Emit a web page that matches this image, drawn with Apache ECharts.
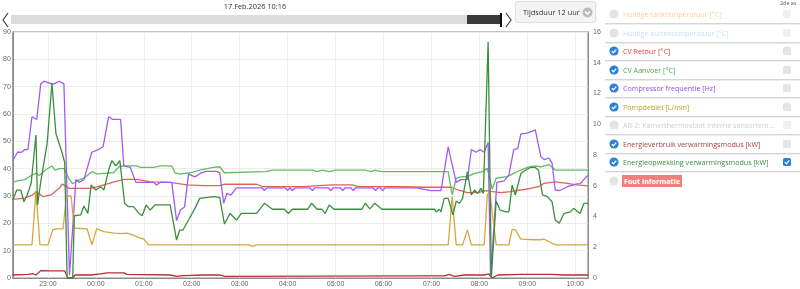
<!DOCTYPE html>
<html><head><meta charset="utf-8">
<script src="https://cdn.jsdelivr.net/npm/echarts@6/dist/echarts.min.js"></script>
<style>
html,body{margin:0;padding:0;background:#fff;font-family:'Open Sans',sans-serif;}
#wrap{position:relative;width:800px;height:289px;overflow:hidden;}
#chart{position:absolute;left:0;top:0;width:800px;height:289px;}
.abs{position:absolute;}
.row{position:absolute;left:605px;width:195px;height:18px;}
.sep{position:absolute;left:605px;width:195px;height:1px;background:#d6d6d6;box-shadow:0 1px 0 #eee;}
.lbl{position:absolute;left:18px;top:0;line-height:18px;font-family:'Open Sans',sans-serif;font-size:7.15px;white-space:nowrap;}
.box{position:absolute;left:178px;top:5px;width:8px;height:8px;border-radius:1.5px;background:#e4e4e4;}
</style></head>
<body><div id="wrap">
<div id="chart"></div>
</div>
<script>
// ---- data: [minutes after 16 Feb 22:16, value] ----
const startYear = 2026, startMonth = 1, startDay = 16, startHour = 22, startMinute = 16;
const spanMinutes = 720;
const dateTitle = '17.Feb.2026 10:16';
const durationLabel = 'Tijdsduur 12 uur';
const legendNames = ['Huidige tanktemperatuur [°C]','Huidige buitentemperatuur [°C]','CV Retour [°C]','CV Aanvoer [°C]','Compressor frequentie [Hz]','Pompdebiet [L/min]','AB-2: Kamerthermostaat interne sensortem...','Energieverbruik verwarmingsmodus [kW]','Energieopwekking verwarmingsmodus [kW]','Fout informatie'];
const leftTicks = [0, 90, 10];
const rightTicks = [0, 16, 2];

const cvRetour = [[0,28.8],[15,29.2],[25,30.4],[29,31.6],[38,29.8],[48,30.4],[58,32.8],[62,34.4],[66,33.6],[71,32.8],[98,32.8],[106,33.4],[114,34.1],[127,35.2],[139,36.1],[156,36.1],[172,35.2],[197,35],[218,34.1],[238,33.8],[259,33.8],[265,34.3],[305,34.3],[313,33.4],[362,33.4],[400,34.1],[425,34.1],[433,33.4],[487,33.4],[512,33.2],[549,33.2],[557,32.2],[569,31.2],[582,31.2],[592,32],[601,31.6],[611,31.2],[623,31.6],[636,32.2],[648,32.8],[658,33.4],[665,34.6],[679,35.2],[694,34.6],[706,34.1],[720,33.7]];

const cvAanvoer = [[0,35],[6,35.5],[15,36],[23,37.5],[29,38.3],[33,37.5],[41,39.5],[49,41],[53,39.5],[58,40],[64,40],[71,36],[75,34.5],[83,35.9],[89,36.5],[99,38.9],[105,38.1],[114,38.3],[126,38.5],[133,40.7],[139,41],[155,41],[160,40.5],[176,40.5],[185,41],[199,41],[203,38.5],[209,38],[222,38.5],[234,39.5],[251,40.5],[259,40.7],[265,38.5],[317,38.9],[325,39.5],[375,39.5],[381,38.9],[387,39.5],[397,38.9],[403,39.5],[441,39.5],[449,38.9],[453,39.5],[462,38.9],[545,38.9],[550,30.4],[555,36.5],[563,37.1],[569,37.1],[578,38.3],[588,38.9],[594,40.1],[600,32.5],[605,36.5],[619,37.1],[627,38.3],[636,39.5],[644,40.5],[654,41],[661,40.7],[671,41.5],[679,39.5],[720,39.5]];

const compressor = [[0,43],[6,46],[11,46],[15,47],[19,47],[24,59],[30,58],[35,71],[39,72],[48,71],[52,71],[58,72],[64,71],[66,71],[71,1],[79,36],[83,35],[89,36],[99,46],[107,47],[113,48],[120,59],[125,58],[135,58],[139,41],[147,40.5],[149,40],[154,35],[176,35],[180,34],[185,35],[199,35],[205,21],[210,25],[215,26],[220,38],[228,37],[236,38.5],[242,39],[255,39],[259,38.5],[264,27.3],[268,31],[273,30.3],[280,33],[312,33],[315,32],[318,33],[341,33],[344,32],[347,33],[350,32],[354,33],[372,33],[375,32],[378,33],[395,33],[398,32],[401,33],[410,33],[413,32],[416,33],[423,33],[426,32],[429,33],[451,33],[454,32],[457,33],[460,33],[463,32],[466,33],[505,33],[524,32],[536,32],[545,48],[555,35],[561,36],[569,36],[574,47],[580,46],[585,47],[590,46],[595,49.6],[598,0.5],[606,35],[615,35.5],[621,37.7],[627,47],[632,47.3],[636,52.7],[644,53],[654,54.2],[661,44.4],[665,43.3],[671,43.9],[675,42],[679,32.2],[685,32],[694,33.4],[706,34.4],[710,34.5],[718,37],[720,37.5]];

const pompdebiet = [[0,12.1],[24,12.1],[29,31.6],[34,12.1],[44,12.1],[50,17.6],[54,18],[63,18],[67,30],[73,30],[77,18.3],[93,18],[99,12.1],[101,12.1],[105,18],[114,17],[127,16.4],[135,16.2],[143,16.4],[151,15.7],[158,14.8],[164,14.2],[170,12.1],[296,12.1],[300,11.6],[305,12.1],[545,12.1],[550,29.8],[555,12.1],[563,12.1],[569,17.6],[574,12.1],[590,12.1],[594,30.4],[597,31.6],[605,12.1],[621,12.1],[625,17.8],[629,17.6],[636,14.2],[652,14],[660,14],[665,14.2],[675,12.7],[681,12.1],[720,12.1]];

const verbruik = [[0,1.1],[19,1.3],[25,1.6],[29,1.1],[35,2.7],[48,2.6],[65,2.6],[69,0],[75,0],[78,1.1],[98,1.1],[110,1.5],[118,1.9],[139,1.9],[143,1.3],[197,1.1],[205,0.6],[214,0.9],[238,1.1],[259,1.1],[265,0.6],[511,0.8],[540,0.8],[546,1.3],[553,0.6],[565,1.1],[590,1.1],[596,1.5],[600,0],[607,1.1],[636,1.3],[675,1.3],[690,1.1],[720,1.1]];

const opwekking = [[0,5.07],[5,5.72],[10,5.72],[14,4.96],[18,5.4],[23,6.16],[29,9.3],[31,4.75],[35,6.27],[43,8.76],[49,12.66],[54,9.4],[62,8.1],[65,7.5],[68,0],[75,0],[77,4.05],[85,4.1],[89,4.68],[94,4.2],[98,6.05],[104,5.72],[110,5.94],[114,5.72],[120,7.02],[124,7.63],[129,7.3],[134,7.63],[140,4.86],[145,4.64],[151,4.64],[158,4.2],[162,4.05],[167,4.75],[172,4.42],[178,4.75],[197,4.75],[205,2.47],[209,3.12],[213,3.12],[220,3.77],[228,4.53],[234,5.18],[251,5.29],[259,5.25],[265,3.51],[272,4.2],[280,3.77],[286,4.2],[305,4.2],[315,4.86],[325,4.47],[340,4.47],[345,4.2],[350,4.47],[369,4.47],[374,4.86],[381,4.47],[387,4.47],[391,4.2],[396,4.75],[402,4.47],[437,4.47],[441,4.86],[447,4.5],[453,4.86],[462,4.47],[528,4.47],[530,4.3],[534,4.47],[536,4.3],[540,5.18],[545,5.18],[551,4.1],[555,5.0],[559,4.86],[563,5.18],[569,6.91],[574,5.4],[578,5.72],[582,5.5],[586,5.83],[589,5.5],[595,15.37],[599,0],[605,5.0],[610,4.42],[617,4.3],[621,4.3],[625,6.05],[629,5.4],[636,6.8],[642,7.02],[648,7.19],[654,7.19],[658,7.02],[663,5.4],[669,5.29],[675,4.96],[679,3.77],[684,3.56],[690,4.2],[698,4.3],[702,4.53],[710,4.2],[715,4.86],[720,4.86]];

// ---- styling ----
const C = {
  retour:'#e0625e', aanvoer:'#62bd5e', comp:'#a259f7', pomp:'#d8a73c', verbruik:'#b3312f', opwek:'#3b8f3b'
};
const legendStyle = [
  {color:'#f4d49a', on:false, box:'off'},
  {color:'#cadff2', on:false, box:'off'},
  {color:'#d9453f', on:true, box:'empty'},
  {color:'#4aa84a', on:true, box:'empty'},
  {color:'#9a48f2', on:true, box:'empty'},
  {color:'#c49a25', on:true, box:'empty'},
  {color:'#c3d2e1', on:false, box:'off'},
  {color:'#a8403d', on:true, box:'empty'},
  {color:'#3f8e3f', on:true, box:'checked'},
  {color:'#ffffff', on:false, box:'none', fout:true}
];

const t0 = new Date(startYear, startMonth, startDay, startHour, startMinute).getTime();
const toPts = arr => arr.map(p => [t0 + p[0]*60000, p[1]]);

// ---- overlay UI ----
const wrap = document.getElementById('wrap');
function add(html){ wrap.insertAdjacentHTML('beforeend', html); }
add(`<div class="abs" style="left:200px;width:110px;top:0;text-align:center;font-size:7.4px;color:#333;line-height:12px">${dateTitle}</div>`);
add(`<svg class="abs" style="left:1px;top:12px" width="9" height="16"><polyline points="7,1 2,8 7,15" fill="none" stroke="#444" stroke-width="1.2"/></svg>`);
add(`<div class="abs" style="left:11px;top:15px;width:489px;height:9px;background:#dcdcdc"></div>`);
add(`<div class="abs" style="left:467px;top:15px;width:33px;height:9px;background:#3a3a3a"></div>`);
add(`<div class="abs" style="left:500px;top:13px;width:2px;height:14px;background:#111"></div>`);
add(`<svg class="abs" style="left:504px;top:12px" width="9" height="16"><polyline points="2,1 7,8 2,15" fill="none" stroke="#444" stroke-width="1.2"/></svg>`);
add(`<div class="abs" style="left:516px;top:2px;width:79px;height:20px;background:#f4f4f4;border-radius:2px;box-shadow:0 0 1px 1px #ddd"></div>`);
add(`<div class="abs" style="left:523px;top:2px;line-height:20px;font-size:7.4px;color:#333">${durationLabel}</div>`);
add(`<svg class="abs" style="left:582px;top:7px" width="11" height="11"><circle cx="5.5" cy="5.5" r="5" fill="#bdbdbd"/><polyline points="3,4.5 5.5,7 8,4.5" fill="none" stroke="#fff" stroke-width="1.4"/></svg>`);
add(`<div class="abs" style="left:780px;top:-1px;font-size:5.4px;color:#555;line-height:8px">2de as</div>`);

legendNames.forEach((name, i) => {
  const st = legendStyle[i];
  const top = 5 + i*18.5;
  let circle = st.on
    ? `<svg class="abs" style="left:4px;top:4px" width="10" height="10"><circle cx="5" cy="5" r="4.6" fill="#2f7fd6"/><polyline points="2.8,5.2 4.4,6.8 7.3,3.6" fill="none" stroke="#fff" stroke-width="1.3"/></svg>`
    : `<svg class="abs" style="left:4px;top:4px" width="10" height="10"><circle cx="5" cy="5" r="4.6" fill="#e3e3e3"/></svg>`;
  let label = st.fout
    ? `<div class="lbl" style="color:#fff;font-weight:bold;top:3px;line-height:12px;background:#f07f7c;padding:0 2px;left:17px">${name}</div>`
    : `<div class="lbl" style="color:${st.color}">${name}</div>`;
  let box = '';
  if (st.box === 'empty') box = `<div class="box"></div>`;
  if (st.box === 'off') box = `<div class="box" style="background:#f0f0f0"></div>`;
  if (st.box === 'checked') box = `<svg class="abs" style="left:178px;top:5px" width="8" height="8"><rect width="8" height="8" rx="1.5" fill="#2f7fd6"/><polyline points="1.8,4.2 3.4,5.8 6.3,2.4" fill="none" stroke="#fff" stroke-width="1.2"/></svg>`;
  add(`<div class="row" style="top:${top}px">${circle}${label}${box}</div>`);
  if (i < legendNames.length - 1) add(`<div class="sep" style="top:${top+18}px"></div>`);
});

// ---- chart ----
const chart = echarts.init(document.getElementById('chart'), null, {renderer:'canvas'});
const pad = n => (n<10?'0':'') + n;
const line = (name, data, color, yIdx) => ({
  name, type:'line', data: toPts(data), yAxisIndex: yIdx||0, showSymbol:false, symbol:'none',
  lineStyle:{color, width:1.3}, itemStyle:{color}, animation:false, silent:true
});
chart.setOption({
  animation:false,
  grid:{left:8, right:212, top:32, bottom:11, show:true, borderColor:'#8c8c8c', borderWidth:1.2, backgroundColor:'transparent'},
  xAxis:{
    type:'time', min:t0, max:t0+spanMinutes*60000, minInterval:3600000, maxInterval:3600000,
    axisLine:{show:true, lineStyle:{color:'#8c8c8c'}}, axisTick:{show:false},
    axisLabel:{fontSize:7, color:'#666', margin:3, showMinLabel:false, showMaxLabel:false,
      formatter: v => { const d=new Date(v); return pad(d.getHours())+':'+pad(d.getMinutes()); }},
    splitLine:{show:true, lineStyle:{color:'#ececec', width:1}}
  },
  yAxis:[
    {type:'value', min:leftTicks[0], max:leftTicks[1], interval:leftTicks[2], position:'left',
     axisLine:{show:true, lineStyle:{color:'#8c8c8c'}}, axisTick:{show:false},
     axisLabel:{fontSize:7, color:'#666', margin:2},
     splitLine:{show:true, lineStyle:{color:'#ececec', width:1}}},
    {type:'value', min:rightTicks[0], max:rightTicks[1], interval:rightTicks[2], position:'right',
     axisLine:{show:true, lineStyle:{color:'#8c8c8c'}}, axisTick:{show:false},
     axisLabel:{fontSize:7, color:'#666', margin:5},
     splitLine:{show:false}}
  ],
  series:[
    line('CV Retour [°C]', cvRetour, C.retour),
    line('CV Aanvoer [°C]', cvAanvoer, C.aanvoer),
    line('Compressor frequentie [Hz]', compressor, C.comp),
    line('Pompdebiet [L/min]', pompdebiet, C.pomp),
    line('Energieverbruik verwarmingsmodus [kW]', verbruik, C.verbruik),
    line('Energieopwekking verwarmingsmodus [kW]', opwekking, C.opwek, 1)
  ]
});
</script>
</body></html>
